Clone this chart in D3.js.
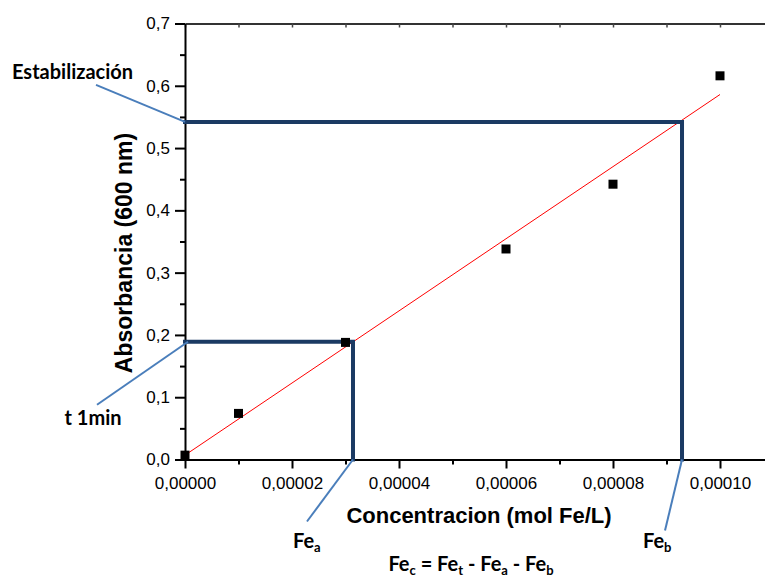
<!DOCTYPE html>
<html>
<head>
<meta charset="utf-8">
<script src="https://cdn.jsdelivr.net/npm/d3@7"></script>
<style>
  body { margin: 0; background: #fff; }
  .note { font-family: Lato, "Open Sans", sans-serif; font-weight: bold; font-size: 20px; fill: #000; }
</style>
</head>
<body>
<div id="chart"></div>
<script>
// measured points
var concX = [0, 0.00001, 0.00003, 0.00006, 0.00008, 0.00010];
var absY = [0.007, 0.074, 0.188, 0.338, 0.442, 0.616];

// linear fit end points
var fitX = [0, 0.00010];
var fitY = [0.007, 0.586];

// guide lines (t 1min and estabilizacion)
var guideX = [0.0000314, 0.0000929];
var guideY = [0.189, 0.542];

var yTicks = [0, 0.1, 0.2, 0.3, 0.4, 0.5, 0.6, 0.7];
var yMinor = [0.05, 0.15, 0.25, 0.35, 0.45, 0.55, 0.65];
var xTicks = [0, 0.00002, 0.00004, 0.00006, 0.00008, 0.00010];
var xMinor = [0.00001, 0.00003, 0.00005, 0.00007, 0.00009];

var W = 765, H = 580;

var svg = d3.select("#chart")
    .append("svg")
    .attr("width", W)
    .attr("height", H);

var x = d3.scaleLinear()
    .domain([0, 0.00011])
    .range([185, 773.5]);

var y = d3.scaleLinear()
    .domain([0, 0.7])
    .range([459.5, 23.5]);

var commaFmt = function(f) { return function(d) { return d3.format(f)(d).replace(".", ","); }; };

function styleAxis(g) {
    g.attr("font-family", "'Liberation Sans', Arial, sans-serif")
        .attr("font-size", 17);
    g.select(".domain").attr("stroke-width", 2);
    g.selectAll("line").attr("stroke-width", 2);
}

// bottom axis
svg.append("g")
    .attr("transform", "translate(0," + y(0) + ")")
    .call(d3.axisBottom(x).tickValues(xMinor).tickSize(5).tickFormat("").tickSizeOuter(0))
    .call(function(g) { g.select(".domain").remove(); })
    .selectAll("line").attr("stroke-width", 2);

svg.append("g")
    .attr("transform", "translate(0," + y(0) + ")")
    .call(d3.axisBottom(x).tickValues(xTicks).tickSize(9).tickPadding(8).tickFormat(commaFmt(".5f")).tickSizeOuter(0))
    .call(styleAxis);

// top axis, small inner ticks
svg.append("g")
    .attr("transform", "translate(0," + y(0.7) + ")")
    .call(d3.axisBottom(x).tickValues(xTicks.concat(xMinor)).tickSize(4).tickFormat("").tickSizeOuter(0))
    .call(function(g) {
        g.select(".domain").attr("stroke-width", 2).attr("stroke", "#333");
        g.selectAll("line").attr("stroke-width", 1.5).attr("stroke", "#444");
    });

// left axis
svg.append("g")
    .attr("transform", "translate(" + x(0) + ",0)")
    .call(d3.axisLeft(y).tickValues(yMinor).tickSize(5).tickFormat("").tickSizeOuter(0))
    .call(function(g) { g.select(".domain").remove(); })
    .selectAll("line").attr("stroke-width", 2);

svg.append("g")
    .attr("transform", "translate(" + x(0) + ",0)")
    .call(d3.axisLeft(y).tickValues(yTicks).tickSize(10).tickPadding(5).tickFormat(commaFmt(".1f")).tickSizeOuter(0))
    .call(styleAxis);

// fit line
svg.append("line")
    .attr("x1", x(fitX[0])).attr("y1", y(fitY[0]))
    .attr("x2", x(fitX[1])).attr("y2", y(fitY[1]))
    .attr("stroke", "#ff0000")
    .attr("stroke-width", 1);

// guide lines, dark blue
var guides = svg.append("g")
    .attr("stroke", "#1b3a63")
    .attr("stroke-width", 4)
    .attr("stroke-linecap", "square")
    .attr("fill", "none");

guideX.forEach(function(gx, i) {
    guides.append("path")
        .attr("d", "M" + x(0) + "," + y(guideY[i]) + "H" + x(gx) + "V" + y(0));
});

// data points
svg.append("g")
    .selectAll("rect")
    .data(concX)
    .enter()
    .append("rect")
    .attr("x", function(d) { return x(d) - 4.5; })
    .attr("y", function(d, i) { return y(absY[i]) - 4.5; })
    .attr("width", 9)
    .attr("height", 9)
    .attr("fill", "#000");

// callouts: anchor on chart + offset to label end
var callouts = [
    { ax: x(0), ay: y(guideY[1]), dx: -89, dy: -37 },
    { ax: x(0) + 3, ay: y(guideY[0]), dx: -91, dy: 63 },
    { ax: x(guideX[0]), ay: y(0), dx: -46, dy: 62 },
    { ax: x(guideX[1]), ay: y(0), dx: -17, dy: 71 }
];

svg.append("g")
    .selectAll("line")
    .data(callouts)
    .enter()
    .append("line")
    .attr("x1", function(d) { return d.ax; })
    .attr("y1", function(d) { return d.ay; })
    .attr("x2", function(d) { return d.ax + d.dx; })
    .attr("y2", function(d) { return d.ay + d.dy; })
    .attr("stroke", "#4a7ebb")
    .attr("stroke-width", 2);

// axis titles
svg.append("text")
    .text("Concentracion (mol Fe/L)")
    .attr("x", 479)
    .attr("y", 523)
    .attr("text-anchor", "middle")
    .style("font-family", "'Liberation Sans', Arial, sans-serif")
    .style("font-weight", "bold")
    .style("font-size", "22px");

svg.append("text")
    .text("Absorbancia (600 nm)")
    .attr("transform", "translate(132,253) rotate(-90)")
    .attr("text-anchor", "middle")
    .style("font-family", "'Liberation Sans', Arial, sans-serif")
    .style("font-weight", "bold")
    .style("font-size", "23px");

// labels
svg.append("text").attr("class", "note")
    .attr("x", 12).attr("y", 79)
    .text("Estabilización");

svg.append("text").attr("class", "note")
    .attr("x", 93).attr("y", 425).attr("text-anchor", "middle")
    .text("t 1min");

function feText(g, parts, xPos, yPos, anchor) {
    var t = g.append("text").attr("class", "note")
        .attr("x", xPos).attr("y", yPos)
        .attr("text-anchor", anchor);
    var shift = 0;
    parts.forEach(function(p) {
        t.append("tspan").text(p[0]).attr("dy", -shift);
        t.append("tspan").text(p[1]).attr("dy", 4).style("font-size", "13px");
        shift = 4;
    });
    return t;
}

feText(svg, [["Fe", "a"]], 293, 548, "start");
feText(svg, [["Fe", "b"]], 643, 548, "start");
feText(svg, [["Fe", "c"], [" = Fe", "t"], [" - Fe", "a"], [" - Fe", "b"]], 471, 571, "middle");
</script>
</body>
</html>
